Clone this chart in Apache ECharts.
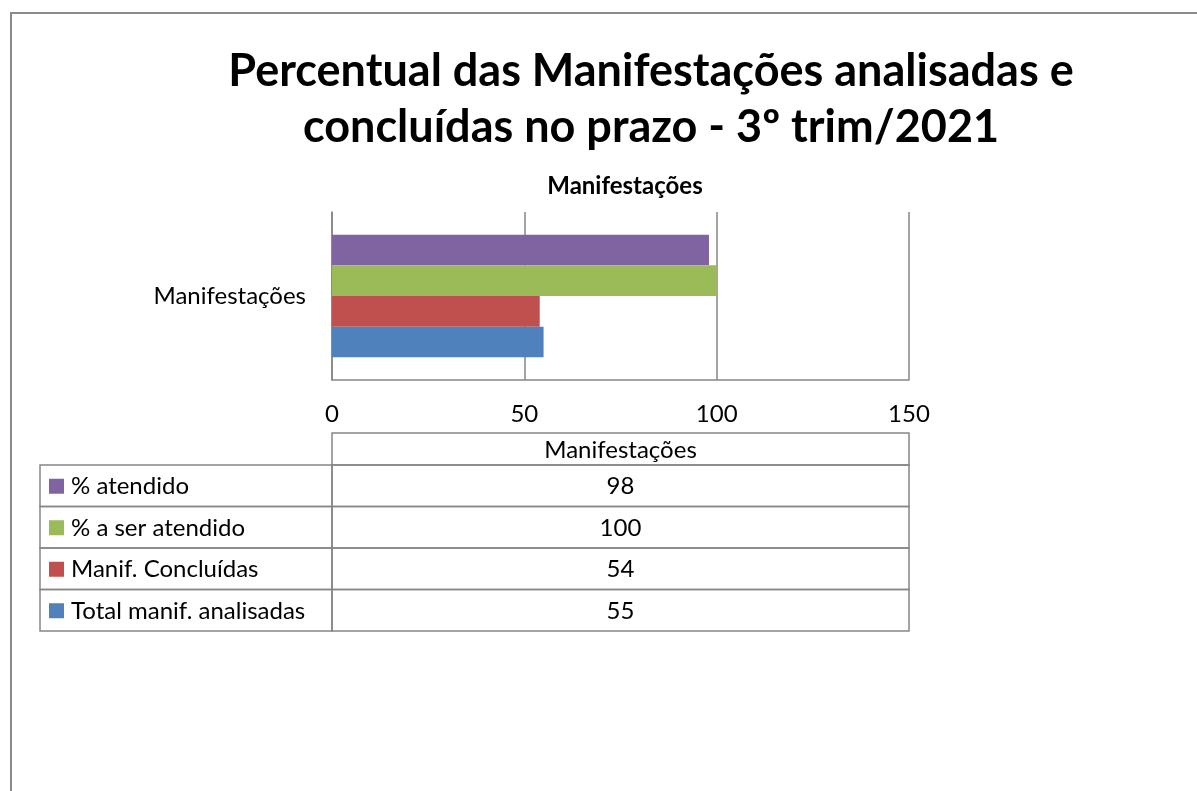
<!DOCTYPE html>
<html>
<head>
<meta charset="utf-8">
<script src="https://cdn.jsdelivr.net/npm/echarts@6/dist/echarts.min.js"></script>
<style>
html,body{margin:0;padding:0;background:#fff;}
#c{width:1197px;height:791px;}
</style>
</head>
<body>
<div id="c"></div>
<script>
const titleLines = ['Percentual das Manifestações analisadas e', 'concluídas no prazo - 3º trim/2021'];
const subTitle = 'Manifestações';
const categories = ['Manifestações'];
const seriesNames = ['% atendido', '% a ser atendido', 'Manif. Concluídas', 'Total manif. analisadas'];
const seriesValues = [[98], [100], [54], [55]];
const seriesColors = ['#8064A2', '#9BBB59', '#C0504D', '#4F81BD'];
const xTicks = {min: 0, max: 150, interval: 50};

const FONT = 'Lato';
const GRID_COLOR = '#868686';
const chart = echarts.init(document.getElementById('c'), null, {renderer: 'canvas'});

const series = seriesNames.map((n, i) => ({
  name: n,
  type: 'bar',
  data: seriesValues[i],
  itemStyle: {color: seriesColors[i]},
  barGap: '0%',
  barCategoryGap: '27%',
  silent: true
}));

chart.setOption({
  animation: false,
  textStyle: {fontFamily: FONT},
  title: [
    {text: titleLines.join('\n'), left: 646, top: 38, textAlign: 'center',
     textStyle: {fontFamily: FONT, fontSize: 45, fontWeight: 'bold', color: '#000', lineHeight: 56}},
    {text: subTitle, left: 620, top: 169, textAlign: 'center',
     textStyle: {fontFamily: FONT, fontSize: 24, fontWeight: 'bold', color: '#000'}}
  ],
  grid: {left: 332, right: 288, top: 212, height: 168, containLabel: false},
  xAxis: {
    type: 'value', min: xTicks.min, max: xTicks.max, interval: xTicks.interval,
    axisLine: {show: true, lineStyle: {color: GRID_COLOR, width: 1.5}},
    axisTick: {show: false},
    axisLabel: {color: '#000', fontSize: 24, fontFamily: FONT, margin: 22},
    splitLine: {show: true, lineStyle: {color: GRID_COLOR, width: 1.5}}
  },
  yAxis: {
    type: 'category', data: categories, inverse: true,
    axisLine: {show: true, lineStyle: {color: GRID_COLOR, width: 1.5}},
    axisTick: {show: false},
    axisLabel: {color: '#000', fontSize: 24, fontFamily: FONT, margin: 26}
  },
  series: series
});

// Data table below the chart, built from the same arrays
const x0 = chart.convertToPixel({xAxisIndex: 0}, xTicks.min);
const x1 = chart.convertToPixel({xAxisIndex: 0}, xTicks.max);
const tableLeft = 40, headTop = 433, headBottom = 465, rowH = 41.5;
const lineStyle = {stroke: GRID_COLOR, lineWidth: 1.5};
const TFONT = '24px ' + FONT;
const g = [];
// frame
g.push({type: 'polyline', shape: {points: [[11, 791], [11, 13], [1197, 13]]}, style: {stroke: '#8a8a8a', lineWidth: 2, fill: null}});
// header cell
g.push({type: 'rect', shape: {x: x0, y: headTop, width: x1 - x0, height: headBottom - headTop}, style: {fill: null, ...lineStyle}});
g.push({type: 'text', x: (x0 + x1) / 2, y: (headTop + headBottom) / 2 + 1,
  style: {text: categories[0], font: TFONT, fill: '#000', align: 'center', verticalAlign: 'middle'}});
seriesNames.forEach((name, r) => {
  const top = headBottom + r * rowH;
  g.push({type: 'rect', shape: {x: tableLeft, y: top, width: x0 - tableLeft, height: rowH}, style: {fill: null, ...lineStyle}});
  g.push({type: 'rect', shape: {x: x0, y: top, width: x1 - x0, height: rowH}, style: {fill: null, ...lineStyle}});
  g.push({type: 'rect', shape: {x: 49, y: top + rowH / 2 - 7, width: 15, height: 15}, style: {fill: seriesColors[r]}});
  g.push({type: 'text', x: 71, y: top + rowH / 2 + 1,
    style: {text: name, font: TFONT, fill: '#000', align: 'left', verticalAlign: 'middle'}});
  g.push({type: 'text', x: (x0 + x1) / 2, y: top + rowH / 2 + 1,
    style: {text: String(seriesValues[r][0]), font: TFONT, fill: '#000', align: 'center', verticalAlign: 'middle'}});
});
chart.setOption({graphic: g.map(e => Object.assign({silent: true}, e))});
</script>
</body>
</html>
